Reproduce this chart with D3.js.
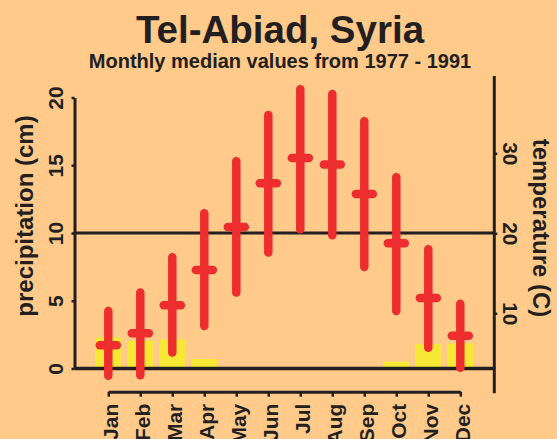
<!DOCTYPE html>
<html>
<head>
<meta charset="utf-8">
<script src="https://cdn.jsdelivr.net/npm/d3@7"></script>
<style>
  html, body { margin: 0; padding: 0; background: #FFCA8A; }
  svg { display: block; }
  text { font-family: "Liberation Sans", Arial, sans-serif; font-weight: bold; fill: #231F20; }
</style>
</head>
<body>
<svg id="chart" width="557" height="439"></svg>
<script>
// ---- data ----
const months = ["Jan","Feb","Mar","Apr","May","Jun","Jul","Aug","Sep","Oct","Nov","Dec"];
const precipitation = [2.3, 2.05, 2.15, 0.7, 0, 0, 0, 0, 0, 0.5, 1.8, 1.85];   // cm
const tempMin    = [2.2, 2.25, 5.1, 8.4, 12.6, 17.6, 20.5, 19.75, 15.8, 10.3, 5.7, 3.2];   // C
const tempMedian = [6.0, 7.5, 11.0, 15.4, 20.8, 26.25, 29.4, 28.6, 24.9, 18.75, 11.9, 7.2];
const tempMax    = [10.3, 12.6, 17.0, 22.5, 29.0, 34.8, 38.0, 37.4, 34.0, 27.0, 18.0, 11.2];
const precipTicks = [0, 5, 10, 15, 20];
const tempTicks = [10, 20, 30];

const title = "Tel-Abiad, Syria";
const subtitle = "Monthly median values from 1977 - 1991";

// ---- styling ----
const dark = "#231F20", red = "#EE2D2F", yellow = "#F8E836";

const svg = d3.select("#chart");

const x = d3.scalePoint().domain(months).range([108.3, 460.3]);
const yP = d3.scaleLinear().domain([0, 20]).range([368.5, 97.5]);
const yT = d3.scaleLinear().domain([0, 40]).range([393.3, 73.3]);

const leftX = 74.5, rightX = 494.3;
const barW = x.step() * 0.83;

// title
svg.append("text").attr("x", 280).attr("y", 43).attr("text-anchor", "middle")
  .style("font-size", "38.5px").text(title);
svg.append("text").attr("x", 280).attr("y", 68).attr("text-anchor", "middle")
  .style("font-size", "20px").text(subtitle);

// bars
svg.append("g").selectAll("rect").data(months).join("rect")
  .attr("x", d => x(d) - barW / 2)
  .attr("width", barW)
  .attr("y", (d, i) => yP(precipitation[i]))
  .attr("height", (d, i) => yP(0) - yP(precipitation[i]))
  .attr("fill", yellow);

// baseline and mid line
svg.append("line").attr("x1", leftX).attr("x2", rightX + 1).attr("y1", yP(0)).attr("y2", yP(0))
  .attr("stroke", dark).attr("stroke-width", 3.5);
svg.append("line").attr("x1", leftX).attr("x2", rightX).attr("y1", yP(10)).attr("y2", yP(10))
  .attr("stroke", dark).attr("stroke-width", 3);

// left axis
const gL = svg.append("g").attr("transform", `translate(${leftX},0)`)
  .call(d3.axisLeft(yP).tickValues(precipTicks).tickSize(3).tickSizeOuter(0).tickPadding(0));
gL.select(".domain").attr("stroke", dark).attr("stroke-width", 3);
gL.selectAll(".tick line").attr("stroke", dark).attr("stroke-width", 2.5);
gL.selectAll(".tick text")
  .attr("x", 0).attr("y", 0).attr("dy", 0)
  .attr("transform", "translate(-11.5,0) rotate(-90)")
  .attr("text-anchor", "middle")
  .style("font-size", "21px").style("font-family", "Liberation Sans, Arial, sans-serif")
  .style("font-weight", "bold").attr("fill", dark);

// right axis
const gR = svg.append("g").attr("transform", `translate(${rightX},0)`)
  .call(d3.axisRight(yT).tickValues(tempTicks).tickSize(3).tickSizeOuter(0).tickPadding(0));
gR.select(".domain").remove();
gR.append("line").attr("x1", 0).attr("x2", 0).attr("y1", yT(0)).attr("y2", 76)
  .attr("stroke", dark).attr("stroke-width", 3);
gR.selectAll(".tick line").attr("stroke", dark).attr("stroke-width", 2.5);
gR.selectAll(".tick text")
  .attr("x", 0).attr("y", 0).attr("dy", 0)
  .attr("transform", "translate(9,0) rotate(90)")
  .attr("text-anchor", "middle")
  .style("font-size", "21px").style("font-family", "Liberation Sans, Arial, sans-serif")
  .style("font-weight", "bold").attr("fill", dark);

// bottom month axis
const gB = svg.append("g").attr("transform", "translate(0,391.7)")
  .call(d3.axisBottom(x).tickSize(5).tickSizeOuter(0).tickPadding(0));
gB.select(".domain").attr("stroke", dark).attr("stroke-width", 3);
gB.selectAll(".tick line").attr("stroke", dark).attr("stroke-width", 2.5);
gB.selectAll(".tick text")
  .attr("x", 0).attr("y", 0).attr("dy", "0.36em")
  .attr("transform", "translate(1.5,12) rotate(-90)")
  .attr("text-anchor", "end")
  .style("font-size", "21px").style("font-family", "Liberation Sans, Arial, sans-serif")
  .style("font-weight", "bold").attr("fill", dark);

// axis titles
svg.append("text").attr("transform", "translate(33,216) rotate(-90)")
  .attr("text-anchor", "middle").style("font-size", "24px").text("precipitation (cm)");
svg.append("text").attr("transform", "translate(533,228) rotate(90)")
  .attr("text-anchor", "middle").style("font-size", "24px").text("temperature (C)");

// temperature ranges
const gT = svg.append("g");
gT.selectAll("line.range").data(months).join("line").attr("class", "range")
  .attr("x1", d => x(d)).attr("x2", d => x(d))
  .attr("y1", (d, i) => yT(tempMin[i])).attr("y2", (d, i) => yT(tempMax[i]))
  .attr("stroke", red).attr("stroke-width", 8.5).attr("stroke-linecap", "round");
gT.selectAll("line.med").data(months).join("line").attr("class", "med")
  .attr("x1", d => x(d) - 8.5).attr("x2", d => x(d) + 8.5)
  .attr("y1", (d, i) => yT(tempMedian[i])).attr("y2", (d, i) => yT(tempMedian[i]))
  .attr("stroke", red).attr("stroke-width", 8.5).attr("stroke-linecap", "round");
</script>
</body>
</html>
